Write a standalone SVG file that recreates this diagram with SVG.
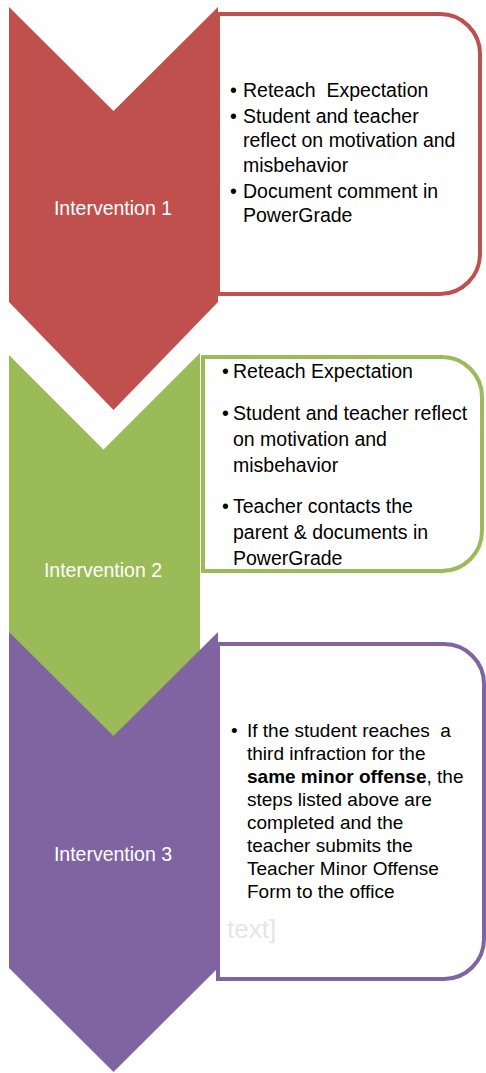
<svg xmlns="http://www.w3.org/2000/svg" width="486" height="1073" viewBox="0 0 486 1073">
<style>
.box{fill:#ffffff;stroke-width:4}
.lbl{font-family:"Liberation Sans",Arial,sans-serif;font-size:19.5px;fill:#ffffff;text-anchor:middle}
.t{font-family:"Liberation Sans",Arial,sans-serif;font-size:19.5px;fill:#000000}
.t3{font-family:"Liberation Sans",Arial,sans-serif;font-size:19px;fill:#000000}
.ph{font-family:"Liberation Sans",Arial,sans-serif;font-size:26px;fill:#e6e6e6}
</style>
<rect width="486" height="1073" fill="#ffffff"/>
<g id="intervention1">
<path class="box" stroke="#C0504D" d="M218,14 H440 A40,40 0 0 1 480,54 V254 A40,40 0 0 1 440,294 H218 Z"/>
<polygon fill="#C0504D" points="9,7 113.5,111 218,7 218,302 113.5,410 9,302"/>
<text class="lbl" x="113" y="215">Intervention 1</text>
<text class="t" x="230" y="97">•</text><text class="t" x="243" y="97" xml:space="preserve">Reteach  Expectation</text>
<text class="t" x="230" y="123">•</text><text class="t" x="243" y="123">Student and teacher</text>
<text class="t" x="243" y="147">reflect on motivation and</text>
<text class="t" x="243" y="172">misbehavior</text>
<text class="t" x="230" y="198">•</text><text class="t" x="243" y="198">Document comment in</text>
<text class="t" x="243" y="222">PowerGrade</text>
</g>
<g id="intervention2">
<path class="box" stroke="#9BBB59" d="M203,357 H442 A40,40 0 0 1 482,397 V531 A40,40 0 0 1 442,571 H203 Z"/>
<polygon fill="#9BBB59" points="9,355 103.5,449.5 200,353 200,660 104.5,755 9,660"/>
<text class="lbl" x="103" y="577">Intervention 2</text>
<text class="t" x="222" y="378">•</text><text class="t" x="233" y="378">Reteach Expectation</text>
<text class="t" x="222" y="420">•</text><text class="t" x="233" y="420">Student and teacher reflect</text>
<text class="t" x="233" y="446">on motivation and</text>
<text class="t" x="233" y="472">misbehavior</text>
<text class="t" x="222" y="513">•</text><text class="t" x="233" y="513">Teacher contacts the</text>
<text class="t" x="233" y="539">parent &amp; documents in</text>
<text class="t" x="233" y="565">PowerGrade</text>
</g>
<g id="intervention3">
<path class="box" stroke="#8064A2" d="M218,644 H444 A40,40 0 0 1 484,684 V939 A40,40 0 0 1 444,979 H218 Z"/>
<polygon fill="#8064A2" points="9,632 113.5,736 218,632 218,968 113.5,1072 9,968"/>
<text class="lbl" x="113" y="861">Intervention 3</text>
<text class="t3" x="231" y="737">•</text><text class="t3" x="247" y="737" xml:space="preserve">If the student reaches  a</text>
<text class="t3" x="247" y="760">third infraction for the</text>
<text class="t3" x="247" y="783"><tspan font-weight="bold">same minor offense</tspan>, the</text>
<text class="t3" x="247" y="806">steps listed above are</text>
<text class="t3" x="247" y="829">completed and the</text>
<text class="t3" x="247" y="852">teacher submits the</text>
<text class="t3" x="247" y="875">Teacher Minor Offense</text>
<text class="t3" x="247" y="898">Form to the office</text>
<text class="ph" x="227" y="938">text]</text>
</g>
</svg>
